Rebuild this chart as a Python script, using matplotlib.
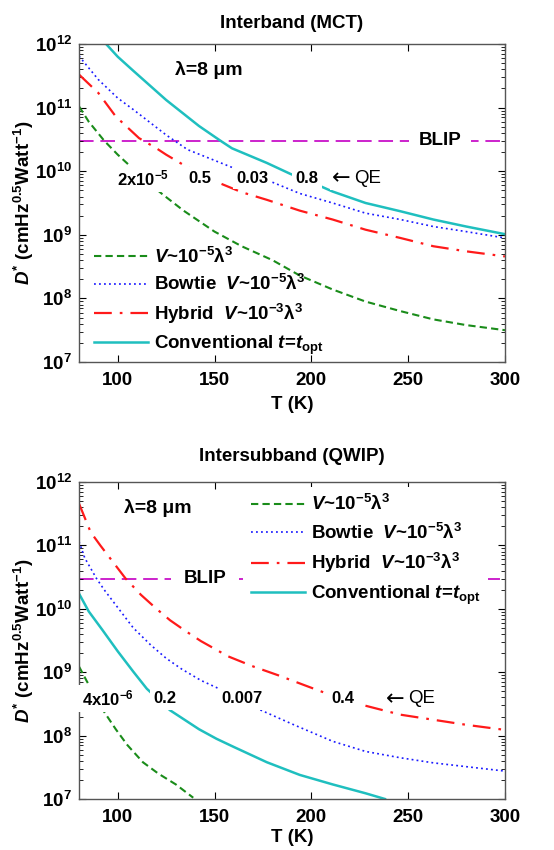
import numpy as np
import matplotlib
matplotlib.use("Agg")
import matplotlib.pyplot as plt
from matplotlib.ticker import LogLocator, LogFormatterMathtext, NullFormatter, FixedLocator

plt.rcParams['font.family'] = ['Liberation Sans', 'DejaVu Sans']
plt.rcParams['font.weight'] = 'bold'
plt.rcParams['mathtext.fontset'] = 'custom'
plt.rcParams['mathtext.rm'] = 'Liberation Sans:bold'
plt.rcParams['mathtext.bf'] = 'Liberation Sans:bold'
plt.rcParams['mathtext.it'] = 'Liberation Sans:bold:italic'
plt.rcParams['mathtext.default'] = 'rm'

# ---------------- data: top panel (Interband, MCT) ----------------
top_green_T = [80, 85, 93, 100, 105, 112, 123, 134, 150, 164, 180, 194, 211, 228, 246, 263, 280, 300]
top_green_logD = [11.02, 10.78, 10.48, 10.26, 10.12, 9.92, 9.64, 9.38, 9.05, 8.82, 8.60, 8.36, 8.14, 7.95, 7.80, 7.67, 7.58, 7.50]

top_blue_T = [80, 90, 100, 108, 125, 136, 150, 159, 178, 194, 211, 228, 246, 263, 280, 300]
top_blue_logD = [11.81, 11.44, 11.15, 10.97, 10.57, 10.34, 10.17, 10.06, 9.85, 9.65, 9.50, 9.34, 9.24, 9.13, 9.05, 8.95]

top_red_T = [80, 90, 99, 111, 120, 125, 135, 152, 164, 177, 194, 211, 228, 246, 263, 280, 300]
top_red_logD = [11.52, 11.23, 10.86, 10.52, 10.36, 10.26, 10.08, 9.82, 9.67, 9.55, 9.38, 9.24, 9.08, 8.95, 8.82, 8.74, 8.66]

top_cyan_T = [94, 100, 108, 125, 142, 153, 159, 177, 189, 205, 211, 228, 246, 263, 280, 300]
top_cyan_logD = [12.0, 11.80, 11.58, 11.12, 10.71, 10.48, 10.36, 10.13, 9.96, 9.76, 9.68, 9.50, 9.37, 9.24, 9.13, 9.01]

top_qe_labels = ["2x10$^{-5}$", "0.5", "0.03", "0.8"]
top_qe_T = [113, 142.4, 169.4, 197.5]

# ---------------- data: bottom panel (Intersubband, QWIP) ----------------
bot_green_T = [80, 84, 92, 99, 105, 113, 121, 130, 139]
bot_green_logD = [9.09, 8.86, 8.42, 8.10, 7.85, 7.58, 7.40, 7.23, 7.02]

bot_blue_T = [80, 83, 89, 93, 100, 108, 117, 125, 133, 143, 153, 174, 191, 211, 228, 246, 263, 280, 300]
bot_blue_logD = [11.06, 10.80, 10.48, 10.30, 10.02, 9.70, 9.43, 9.22, 9.05, 8.87, 8.73, 8.40, 8.17, 7.91, 7.75, 7.65, 7.57, 7.51, 7.44]

bot_red_T = [80, 86, 91, 97, 104, 112, 120, 127, 135, 143, 157, 170, 183, 196, 210, 223, 246, 263, 280, 300]
bot_red_logD = [11.66, 11.21, 11.0, 10.76, 10.48, 10.22, 10.0, 9.82, 9.65, 9.49, 9.25, 9.09, 8.95, 8.80, 8.64, 8.51, 8.33, 8.25, 8.17, 8.09]

bot_cyan_T = [80, 85, 92, 100, 108, 115, 127, 142, 151, 160, 177, 194, 211, 228, 238]
bot_cyan_logD = [10.24, 9.96, 9.67, 9.33, 9.01, 8.74, 8.40, 8.10, 7.95, 7.82, 7.58, 7.38, 7.23, 7.09, 7.0]

bot_qe_labels = ["4x10$^{-6}$", "0.2", "0.007", "0.4"]
bot_qe_T = [94.8, 124.4, 164.4, 216.2]

BLIP = 3e10
legend_labels = [r"$\mathit{V}$~10$^{-5}$λ$^{3}$",
                 r"Bowtie  $\mathit{V}$~10$^{-5}$λ$^{3}$",
                 r"Hybrid  $\mathit{V}$~10$^{-3}$λ$^{3}$",
                 r"Conventional $\mathit{t}$=$\mathit{t}_{\mathrm{opt}}$"]

GREEN = '#1a8c1a'
BLUE = '#1a1aff'
RED = '#ff1a1a'
CYAN = '#1fbfbf'
MAG = '#cc22cc'

fig = plt.figure(figsize=(5.54, 8.5), dpi=100)
ax1 = fig.add_axes([79/554, 1-362/850, 426/554, 318/850])
ax2 = fig.add_axes([79/554, 1-799/850, 426/554, 317/850])


def draw(ax, g, b, r, c):
    lg, = ax.plot(g[0], 10**np.array(g[1]), color=GREEN, lw=1.5, dashes=(3.5, 2.0))
    lb, = ax.plot(b[0], 10**np.array(b[1]), color=BLUE, lw=1.2, dashes=(1.1, 1.9))
    lr, = ax.plot(r[0], 10**np.array(r[1]), color=RED, lw=1.6, dashes=(8.0, 3.6, 1.2, 3.6))
    lc, = ax.plot(c[0], 10**np.array(c[1]), color=CYAN, lw=1.8)
    ax.axhline(BLIP, color=MAG, lw=1.4, dashes=(7.5, 3.5), zorder=1.5)
    ax.set_xlim(80, 300)
    ax.set_ylim(1e7, 1e12)
    ax.set_yscale('log')
    ax.xaxis.set_major_locator(FixedLocator([100, 150, 200, 250, 300]))
    ax.yaxis.set_major_locator(LogLocator(base=10, numticks=10))
    ax.yaxis.set_minor_locator(LogLocator(base=10, subs=np.arange(2, 10), numticks=20))
    ax.yaxis.set_major_formatter(LogFormatterMathtext())
    ax.yaxis.set_minor_formatter(NullFormatter())
    ax.tick_params(axis='both', which='major', direction='in', length=5, width=0.8,
                   top=True, right=True, labelsize=13.5)
    ax.tick_params(axis='x', which='major', pad=7)
    ax.tick_params(axis='y', which='major', pad=5)
    ax.tick_params(axis='y', which='minor', direction='in', length=3, width=0.6,
                   left=True, right=True)
    for lab in ax.get_xticklabels() + ax.get_yticklabels():
        lab.set_fontweight('bold')
    for s in ax.spines.values():
        s.set_color('#555555')
        s.set_linewidth(1.0)
    ax.text(-0.13, 0.5, r"$\mathit{D}^{*}$ (cmHz$^{0.5}$Watt$^{-1}$)", rotation=90,
            transform=ax.transAxes, ha='center', va='center', fontsize=13.5, fontweight='bold')
    return [lg, lb, lr, lc]


def qe(ax, t, y):
    ax.text(t, y, "←", ha='left', va='center', fontsize=16, fontweight='normal',
            family='DejaVu Sans', bbox=dict(facecolor='white', edgecolor='none', pad=1), zorder=5)
    ax.text(t + 11.5, y, "QE", ha='left', va='center', fontsize=13.5, fontweight='normal',
            bbox=dict(facecolor='white', edgecolor='none', pad=1), zorder=5)


box = dict(facecolor='white', edgecolor='none', pad=2.5)

# ---------- top ----------
h1 = draw(ax1, (top_green_T, top_green_logD), (top_blue_T, top_blue_logD),
          (top_red_T, top_red_logD), (top_cyan_T, top_cyan_logD))
ax1.text(0.5, 1.066, "Interband (MCT)", transform=ax1.transAxes, ha='center', va='center',
         fontsize=13.5, fontweight='bold')
ax1.text(0.5, -0.135, "T (K)", transform=ax1.transAxes, ha='center', va='center',
         fontsize=13.5, fontweight='bold')
ax1.text(146.8, 10**11.59, "λ=8 μm", ha='center', va='center', fontsize=14, fontweight='bold')
for lab, t in zip(top_qe_labels, top_qe_T):
    ax1.text(t, 10**9.89, lab, ha='center', va='center', fontsize=12, fontweight='bold',
             bbox=box, zorder=5)
qe(ax1, 210.5, 10**9.89)
ax1.text(266.4, BLIP, "BLIP", ha='center', va='center', fontsize=13.5, fontweight='bold',
         bbox=dict(facecolor='white', edgecolor='none', pad=7), zorder=5)
leg1 = ax1.legend(h1, legend_labels, loc='upper left', bbox_to_anchor=(0.0, 0.41),
                  frameon=False, fontsize=13.5, handlelength=2.9, handletextpad=0.3,
                  labelspacing=0.4, borderaxespad=0.4)

# ---------- bottom ----------
h2 = draw(ax2, (bot_green_T, bot_green_logD), (bot_blue_T, bot_blue_logD),
          (bot_red_T, bot_red_logD), (bot_cyan_T, bot_cyan_logD))
ax2.text(0.5, 1.079, "Intersubband (QWIP)", transform=ax2.transAxes, ha='center', va='center',
         fontsize=13.5, fontweight='bold')
ax2.text(0.5, -0.123, "T (K)", transform=ax2.transAxes, ha='center', va='center',
         fontsize=13.5, fontweight='bold')
ax2.text(120.5, 10**11.59, "λ=8 μm", ha='center', va='center', fontsize=14, fontweight='bold')
for lab, t in zip(bot_qe_labels, bot_qe_T):
    ax2.text(t, 10**8.58, lab, ha='center', va='center', fontsize=12, fontweight='bold',
             bbox=box, zorder=5)
qe(ax2, 238.5, 10**8.58)
ax2.text(145, BLIP, "BLIP", ha='center', va='center', fontsize=13.5, fontweight='bold',
         bbox=dict(facecolor='white', edgecolor='none', pad=9), zorder=5)
leg2 = ax2.legend(h2, legend_labels, loc='upper left', bbox_to_anchor=(0.375, 1.0),
                  frameon=True, facecolor='white', edgecolor='none', framealpha=1.0,
                  fontsize=13.5, handlelength=2.9, handletextpad=0.3,
                  labelspacing=0.45, borderaxespad=0.25, fancybox=False)

fig.savefig("out.png", dpi=100, facecolor='white')
